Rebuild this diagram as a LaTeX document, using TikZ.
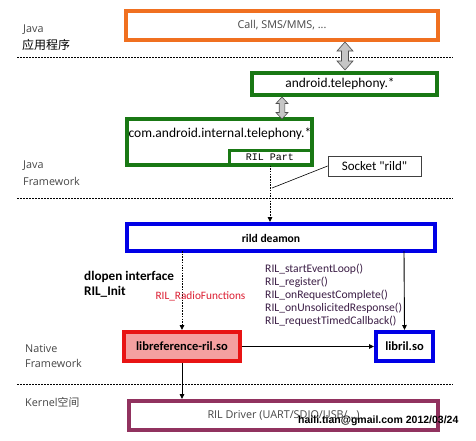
\documentclass[tikz,border=0pt]{standalone}
\usepackage{fontspec}
\setmainfont{Carlito}
\newfontfamily\cjkf{Noto Sans CJK SC}
\newfontfamily\monof{Liberation Mono}
\newfontfamily\arialf{Liberation Sans}
\newfontfamily\lightf{Open Sans}
\usetikzlibrary{arrows.meta}
\definecolor{cOrange}{RGB}{240,112,32}
\definecolor{cGreen}{RGB}{25,120,20}
\definecolor{cBlue}{RGB}{0,0,230}
\definecolor{cRed}{RGB}{232,20,20}
\definecolor{cPink}{RGB}{244,160,160}
\definecolor{cPurple}{RGB}{145,50,95}
\definecolor{cFunc}{RGB}{60,30,70}
\definecolor{cRadio}{RGB}{220,30,50}
\definecolor{cLabel}{RGB}{70,70,70}
\newcommand\fatdarrow[6]{%
  \fill[gray!45,draw=gray!60!black,line width=0.6pt]
   (#1,#2) -- (#1+#4,#2+#6) -- (#1+#5,#2+#6) -- (#1+#5,#3-#6) -- (#1+#4,#3-#6)
   -- (#1,#3) -- (#1-#4,#3-#6) -- (#1-#5,#3-#6) -- (#1-#5,#2+#6) -- (#1-#4,#2+#6) -- cycle;}
\begin{document}
\begin{tikzpicture}[x=1pt,y=-1pt,
  box/.style={draw,line width=4pt,fill=white,inner sep=0pt},
  sepline/.style={line width=0.9pt,dash pattern=on 2pt off 1pt},
  conn/.style={line width=0.9pt,-{Triangle[length=5pt,width=4.5pt]}},
  dconn/.style={conn,dash pattern=on 1.5pt off 1.2pt},
  side/.style={anchor=west,inner sep=0pt,text=cLabel,font=\lightf\fontsize{10.8}{13}\selectfont},
  func/.style={anchor=west,inner sep=0pt,text=cFunc,font=\fontsize{11.6}{13}\selectfont},
  boldlbl/.style={font=\fontsize{12.5}{14}\selectfont\bfseries}]
\useasboundingbox (0,0) rectangle (476,440);
\fill[white] (0,0) rectangle (476,440);

% separators
\draw[sepline] (17,57) -- (453,57);
\draw[sepline] (17,198) -- (453,198);
\draw[sepline] (17,384) -- (453,384);

% side labels
\node[side] (lj1) at (23,30) {Java};
\node[side,font=\cjkf\fontsize{12}{14}\selectfont,text=black] (lj2) at (22,45) {应用程序};
\node[side] (lf1) at (23,166) {Java};
\node[side] (lf2) at (23,181) {Framework};
\node[side] (ln1) at (25,349) {Native};
\node[side] (ln2) at (25,363) {Framework};
\node[side] (lk) at (25,402) {Kernel{\cjkf 空间}};

% boxes
\node[box,draw=cOrange,minimum width=312pt,minimum height=29pt,text=cLabel,font=\lightf\fontsize{10.8}{13}\selectfont] (app) at (282,25.5) {Call, SMS/MMS, ...};
\node[box,draw=cGreen,minimum width=185pt,minimum height=22pt] (tel) at (344.5,84) {};
\node[inner sep=0pt,font=\fontsize{13.4}{15}\selectfont] (telt) at (340,84) {android.telephony.*};
\node[box,draw=cGreen,minimum width=185pt,minimum height=46pt] (itel) at (219.5,142) {};
\node[inner sep=0pt,font=\fontsize{13.5}{15}\selectfont] (itelt) at (220,134) {com.android.internal.telephony.*};
\node[box,draw=cGreen,line width=3pt,minimum width=82pt,minimum height=14pt,font=\monof\fontsize{10}{12}\selectfont] (rilp) at (270,157) {RIL Part};
\node[draw=black!75,line width=0.8pt,fill=white,minimum width=93pt,minimum height=20pt,inner sep=0pt,font=\fontsize{13}{15}\selectfont] (sock) at (374.5,166) {Socket \textquotedbl rild\textquotedbl};
\node[box,draw=cBlue,minimum width=308pt,minimum height=27pt] (rild) at (281,237.5) {};
\node[inner sep=0pt,font=\fontsize{11.6}{14}\selectfont\bfseries] (rildt) at (271,238.5) {rild deamon};
\node[box,draw=cRed,fill=cPink,minimum width=116pt,minimum height=29pt,boldlbl] (lref) at (182,346.5) {libreference-ril.so};
\node[box,draw=cBlue,minimum width=57pt,minimum height=29pt,boldlbl] (lril) at (404.5,346.5) {libril.so};
\node[box,draw=cPurple,minimum width=309pt,minimum height=29pt,text=cLabel,font=\lightf\fontsize{10.8}{13}\selectfont] (drv) at (283.5,415.5) {RIL Driver (UART/SDIO/USB/...)};

% fat double arrows
\fatdarrow{345}{42}{70}{8}{3.5}{9}
\fatdarrow{282}{97}{119}{6}{2.8}{6.5}

% connectors
\draw[dconn] (rilp.south) -- (rilp.south |- rild.north);
\coordinate (sockpt) at (272,188);
\draw[line width=0.6pt] (sock.west) -- (sockpt);
\draw[dconn] (182,251) -- (lref.north);
\draw[conn] (404,251) -- (lril.north);
\draw[conn] (lref.east) -- (lril.west);
\draw[conn] (lref.south) -- (lref.south |- drv.north);

% texts
\node[anchor=west,inner sep=0pt,font=\fontsize{13.2}{15}\selectfont\bfseries] (dl1) at (84,277) {dlopen interface};
\node[anchor=west,inner sep=0pt,font=\fontsize{13.2}{15}\selectfont\bfseries] (dl2) at (84,292) {RIL\_Init};
\node[inner sep=0pt,text=cRadio,font=\fontsize{11.3}{13}\selectfont] (radio) at (200.5,296) {RIL\_RadioFunctions};
\node[func] (f1) at (265,269) {RIL\_startEventLoop()};
\node[func] (f2) at (265,282) {RIL\_register()};
\node[func] (f3) at (265,295) {RIL\_onRequestComplete()};
\node[func] (f4) at (265,308) {RIL\_onUnsolicitedResponse()};
\node[func] (f5) at (265,321) {RIL\_requestTimedCallback()};
\node[anchor=west,inner sep=0pt,font=\arialf\bfseries\fontsize{10.5}{12}\selectfont] (wm) at (298,421) {haili.tian@gmail.com 2012/03/24};
\end{tikzpicture}
\end{document}
